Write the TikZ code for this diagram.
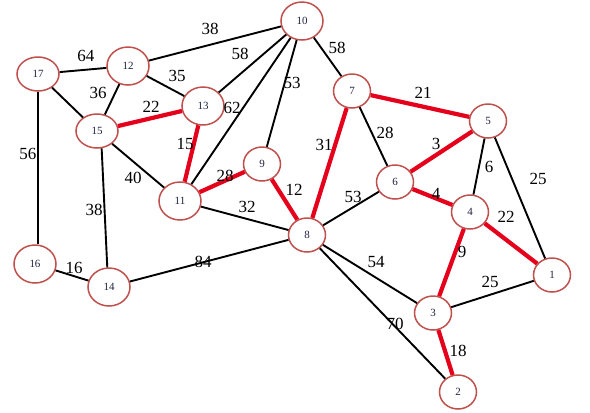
\documentclass[tikz,border=0pt]{standalone}
\usepackage{fontspec}
\setmainfont{Liberation Serif}
\usetikzlibrary{shapes.geometric}
\definecolor{noderim}{HTML}{C0504D}
\definecolor{treered}{HTML}{E5001B}
\definecolor{nodetext}{HTML}{1F2340}
\begin{document}
\begin{tikzpicture}[x=1pt,y=-1pt,
  vtx/.style={ellipse, draw=noderim, line width=1.5pt, fill=white,
    minimum width=37pt, minimum height=34pt, inner sep=0pt,
    font=\fontsize{11}{11}\selectfont, text=nodetext},
  bigvtx/.style={vtx, minimum width=42pt, minimum height=38pt},
  flatvtx/.style={vtx, minimum width=42pt, minimum height=34pt},
  blk/.style={black, line width=1.9pt},
  tree/.style={treered, line width=4.2pt},
  wl/.style={font=\fontsize{17}{17}\selectfont, inner sep=0pt, text=black}
]
\useasboundingbox (0,0) rectangle (590,413);
\fill[white] (0,0) rectangle (590,413);
% vertices
\node[bigvtx]  (n10) at (302,21)  {10};
\node[bigvtx]  (n12) at (128,66)  {12};
\node[flatvtx] (n17) at (38,74)   {17};
\node[bigvtx]  (n13) at (203,106) {13};
\node[flatvtx] (n15) at (97,131)  {15};
\node[vtx]     (n7)  at (352,91)  {7};
\node[vtx]     (n5)  at (488,121) {5};
\node[vtx]     (n9)  at (262,164) {9};
\node[vtx]     (n6)  at (395,182) {6};
\node[bigvtx]  (n11) at (180,201) {11};
\node[vtx]     (n4)  at (470,212) {4};
\node[vtx]     (n8)  at (307,235) {8};
\node[bigvtx]  (n16) at (35,264)  {16};
\node[bigvtx]  (n14) at (109,287) {14};
\node[vtx]     (n1)  at (552,275) {1};
\node[vtx]     (n3)  at (433,313) {3};
\node[vtx]     (n2)  at (458,392) {2};
% black edges
\draw[blk] (n17) -- (n12);
\draw[blk] (n17) -- (n15);
\draw[blk] (n17.south) -- (n17.south |- n16.north);
\draw[blk] (n12) -- (n10);
\draw[blk] (n12) -- (n15);
\draw[blk] (n12) -- (n13);
\draw[blk] (n13) -- (n10);
\draw[blk] (n11) -- (n10);
\draw[blk] (n9) -- (n10);
\draw[blk] (n10) -- (n7);
\draw[blk] (n15) -- (n11);
\draw[blk] (n15.285) -- (n14.95);
\draw[blk] (n11) -- (n8);
\draw[blk] (n16) -- (n14);
\draw[blk] (n14) -- (n8);
\draw[blk] (n7) -- (n6);
\draw[blk] (n6) -- (n8);
\draw[blk] (n5) -- (n4);
\draw[blk] (n5) -- (n1);
\draw[blk] (n8) -- (n3);
\draw[blk] (n8) -- (n2);
\draw[blk] (n3) -- (n1);
% red (tree) edges
\draw[tree] (n15) -- (n13);
\draw[tree] (n13) -- (n11);
\draw[tree] (n11) -- (n9);
\draw[tree] (n9) -- (n8);
\draw[tree] (n7) -- (n8);
\draw[tree] (n7) -- (n5);
\draw[tree] (n6) -- (n5);
\draw[tree] (n6) -- (n4);
\draw[tree] (n4) -- (n1);
\draw[tree] (n4) -- (n3);
\draw[tree] (n3) -- (n2);
% weights
\node[wl] (w38a) at (210,29)  {38};
\node[wl] (w64)  at (86,56)   {64};
\node[wl] (w58a) at (240,54)  {58};
\node[wl] (w35)  at (177,76)  {35};
\node[wl] (w36)  at (98,93)   {36};
\node[wl] (w22a) at (151,107) {22};
\node[wl] (w62)  at (232,108) {62};
\node[wl] (w53a) at (292,83)  {53};
\node[wl] (w56)  at (28,154)  {56};
\node[wl] (w15)  at (185,144) {15};
\node[wl] (w40)  at (133,178) {40};
\node[wl] (w28a) at (225,176) {28};
\node[wl] (w12)  at (294,190) {12};
\node[wl] (w38b) at (94,210)  {38};
\node[wl] (w32)  at (247,207) {32};
\node[wl] (w16)  at (74,268)  {16};
\node[wl] (w84)  at (203,262) {84};
\node[wl] (w58b) at (337,48)  {58};
\node[wl] (w21)  at (423,93)  {21};
\node[wl] (w31)  at (324,145) {31};
\node[wl] (w28b) at (385,133) {28};
\node[wl] (w3)   at (436,144) {3};
\node[wl] (w6)   at (489,167) {6};
\node[wl] (w25a) at (538,179) {25};
\node[wl] (w4)   at (436,194) {4};
\node[wl] (w53b) at (353,197) {53};
\node[wl] (w22b) at (506,217) {22};
\node[wl] (w9)   at (462,252) {9};
\node[wl] (w54)  at (376,262) {54};
\node[wl] (w25b) at (490,282) {25};
\node[wl] (w70)  at (395,324) {70};
\node[wl] (w18)  at (458,351) {18};
\end{tikzpicture}
\end{document}
